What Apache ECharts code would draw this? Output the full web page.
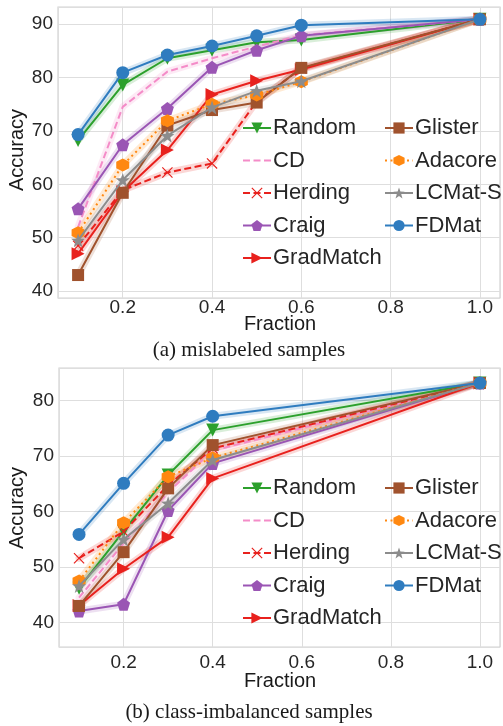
<!DOCTYPE html>
<html><head><meta charset="utf-8">
<script src="https://cdn.jsdelivr.net/npm/echarts@6/dist/echarts.min.js"></script>
<style>html,body{margin:0;padding:0;background:#fff}#c{width:503px;height:726px}</style>
</head><body><div id="c"></div>
<script>
// ---- data ----
const methods = ['Random','CD','Herding','Craig','GradMatch','Glister','Adacore','LCMat-S','FDMat'];
const legendCol1 = ['Random','CD','Herding','Craig','GradMatch'];
const legendCol2 = ['Glister','Adacore','LCMat-S','FDMat'];
const xTickLabels = ['0.2','0.4','0.6','0.8','1.0'];
const yTickLabelsA = ['40','50','60','70','80','90'];
const yTickLabelsB = ['40','50','60','70','80'];

// (a) mislabeled samples
const fractionsA = [0.1,0.2,0.3,0.4,0.5,0.6,1.0];
const randomA    = [68.2,78.6,83.6,85.1,86.6,87.0,90.9];
const cdA        = [52.0,74.5,81.1,83.6,85.8,87.9,90.9];
const herdingA   = [48.5,58.9,62.2,63.9,75.5,81.7,90.9];
const craigA     = [55.4,67.4,74.2,81.9,85.1,87.8,90.9];
const gradmatchA = [47.0,58.6,66.4,76.8,79.4,81.5,90.9];
const glisterA   = [43.0,58.4,71.0,73.9,75.3,81.8,90.9];
const adacoreA   = [50.9,63.6,71.9,75.0,76.7,79.2,90.9];
const lcmatA     = [49.5,60.8,69.1,74.4,77.5,79.3,90.9];
const fdmatA     = [69.3,80.9,84.2,85.9,87.8,89.8,90.9];

// (b) class-imbalanced samples
const fractionsB = [0.1,0.2,0.3,0.4,1.0];
const randomB    = [46.2,56.5,66.6,74.7,83.2];
const cdB        = [44.5,54.3,63.5,71.0,83.2];
const herdingB   = [51.6,56.4,64.8,71.4,83.2];
const craigB     = [42.1,43.3,60.2,68.7,83.2];
const gradmatchB = [43.1,49.7,55.4,66.0,83.2];
const glisterB   = [43.0,52.7,64.2,72.0,83.2];
const adacoreB   = [47.5,58.0,66.3,69.7,83.2];
const lcmatB     = [46.6,55.0,61.5,69.3,83.2];
const fdmatB     = [55.9,65.1,73.8,77.2,83.2];

const seriesA = [randomA,cdA,herdingA,craigA,gradmatchA,glisterA,adacoreA,lcmatA,fdmatA];
const seriesB = [randomB,cdB,herdingB,craigB,gradmatchB,glisterB,adacoreB,lcmatB,fdmatB];

// ---- styles ----
const P = {
  triDown: 'path://M-10,-8 L10,-8 L0,10 Z',
  triRight: 'path://M-8,-10 L10,0 L-8,10 Z',
  pent: 'path://M0,-10 L9.51,-3.09 L5.88,8.09 L-5.88,8.09 L-9.51,-3.09 Z',
  hex: 'path://M0,-10 L8.66,-5 L8.66,5 L0,10 L-8.66,5 L-8.66,-5 Z',
  star: 'path://M0,-10 L2.35,-3.24 L9.51,-3.09 L3.8,1.24 L5.88,8.09 L0,4 L-5.88,8.09 L-3.8,1.24 L-9.51,-3.09 L-2.35,-3.24 Z',
  cross: 'path://M-10,-8.5 L-8.5,-10 L0,-1.5 L8.5,-10 L10,-8.5 L1.5,0 L10,8.5 L8.5,10 L0,1.5 L-8.5,10 L-10,8.5 L-1.5,0 Z'
};
const styles = {
  'Random':   {color:'#2ca02c', symbol:P.triDown, size:13, type:'solid'},
  'CD':       {color:'#f48cc8', symbol:'none', size:0, type:[7,3.5]},
  'Herding':  {color:'#e8211d', symbol:P.cross, size:11, type:[7,3.5]},
  'Craig':    {color:'#9a55b4', symbol:P.pent, size:13, type:'solid'},
  'GradMatch':{color:'#e8211d', symbol:P.triRight, size:13, type:'solid'},
  'Glister':  {color:'#a0522d', symbol:'rect', size:12, type:'solid'},
  'Adacore':  {color:'#ff8811', symbol:P.hex, size:13, type:[2,3.5]},
  'LCMat-S':  {color:'#8c8c8c', symbol:P.star, size:14, type:'solid'},
  'FDMat':    {color:'#2f7cbf', symbol:'circle', size:13, type:'solid'}
};

const series = [];
function addChart(idx, xs, list) {
  methods.forEach((m, i) => {
    const s = styles[m];
    const data = xs.map((x, k) => [x, list[i][k]]);
    series.push({
      name: m + '_band', type: 'line', xAxisIndex: idx, yAxisIndex: idx,
      data: data, symbol: 'none', silent: true, z: 1,
      lineStyle: {color: s.color, width: 7, opacity: 0.18, cap: 'round', join: 'round'}
    });
  });
  methods.forEach((m, i) => {
    const s = styles[m];
    const data = xs.map((x, k) => [x, list[i][k]]);
    const noSym = s.symbol === 'none';
    series.push({
      name: m, type: 'line', xAxisIndex: idx, yAxisIndex: idx,
      data: data, symbol: noSym ? 'circle' : s.symbol, symbolSize: noSym ? 0 : s.size, showSymbol: !noSym,
      z: 2 + i * 0.01, animation: false,
      itemStyle: {color: noSym ? 'rgba(0,0,0,0)' : s.color, opacity: 1},
      lineStyle: {color: s.color, width: 2, type: s.type}
    });
  });
}
addChart(0, fractionsA, seriesA);
addChart(1, fractionsB, seriesB);

function isMult(v, step) { return Math.abs(v / step - Math.round(v / step)) < 1e-6; }
const axisFont = {fontFamily: 'Liberation Sans', fontSize: 19, color: '#262626'};
function xAxis(gi, margin) {
  return {
    type: 'value', gridIndex: gi, min: 0.055, max: 1.045, splitNumber: 5,
    axisLine: {show: false}, axisTick: {show: false},
    splitLine: {show: true, lineStyle: {color: '#dedede', width: 1}},
    axisLabel: Object.assign({margin: margin, formatter: v => {
      if (!isMult(v, 0.2) || v < 0.1) return '';
      const t = (Math.round(v * 5) / 5).toFixed(1);
      return xTickLabels.indexOf(t) >= 0 ? t : '';
    }}, axisFont)
  };
}
function yAxis(gi, min, max, labels) {
  return {
    type: 'value', gridIndex: gi, min: min, max: max, splitNumber: 5,
    axisLine: {show: false}, axisTick: {show: false},
    splitLine: {show: true, lineStyle: {color: '#dedede', width: 1}},
    axisLabel: Object.assign({margin: 5, formatter: v => {
      if (!isMult(v, 10)) return '';
      const t = String(Math.round(v));
      return labels.indexOf(t) >= 0 ? t : '';
    }}, axisFont)
  };
}
function legend(left, top, data) {
  return {
    orient: 'vertical', left: left, top: top, data: data,
    itemWidth: 28, itemHeight: 14, itemGap: 10.5, padding: 0,
    backgroundColor: 'transparent', selectedMode: false,
    textStyle: {fontFamily: 'Liberation Sans', fontSize: 22, color: '#262626', lineHeight: 22, padding: [0,0,0,-3]}
  };
}
const txt = (x, y, text, font, rot) => ({
  type: 'text', x: x, y: y, rotation: rot || 0,
  style: {text: text, font: font, fill: '#1a1a1a', align: 'center', verticalAlign: 'middle'}
});

const option = {
  animation: false,
  backgroundColor: '#ffffff',
  grid: [
    {left: 58, top: 7, right: 2, height: 291, show: true, borderColor: '#d2d2d2', borderWidth: 1.2, backgroundColor: '#fff', containLabel: false},
    {left: 59, top: 368, right: 2, height: 279, show: true, borderColor: '#d2d2d2', borderWidth: 1.2, backgroundColor: '#fff', containLabel: false}
  ],
  xAxis: [xAxis(0, 0), xAxis(1, 6)],
  yAxis: [yAxis(0, 38.7, 93.2, yTickLabelsA), yAxis(1, 35.6, 85.9, yTickLabelsB)],
  legend: [
    legend(242, 117, legendCol1), legend(384, 117, legendCol2),
    legend(242, 477, legendCol1), legend(384, 477, legendCol2)
  ],
  graphic: [
    txt(17, 150, 'Accuracy', '20px "Liberation Sans"', Math.PI / 2),
    txt(280, 324, 'Fraction', '20px "Liberation Sans"'),
    txt(249, 350, '(a) mislabeled samples', '21px "Liberation Serif"'),
    txt(17, 508, 'Accuracy', '20px "Liberation Sans"', Math.PI / 2),
    txt(280, 681, 'Fraction', '20px "Liberation Sans"'),
    txt(249, 712, '(b) class-imbalanced samples', '21px "Liberation Serif"')
  ],
  series: series
};
const chart = echarts.init(document.getElementById('c'), null, {renderer: 'canvas'});
chart.setOption(option);
</script></body></html>
